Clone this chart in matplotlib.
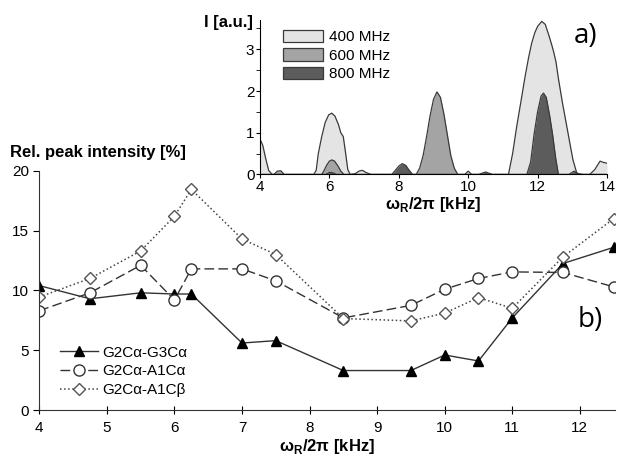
import matplotlib
matplotlib.use("Agg")
import matplotlib.pyplot as plt
from matplotlib.patches import Patch

plt.rcParams['font.family'] = ['Liberation Sans', 'DejaVu Sans']
plt.rcParams['mathtext.fontset'] = 'custom'
plt.rcParams['mathtext.bf'] = 'Liberation Sans:bold'

# Datos panel b
# ______________

x_rate = [4, 4.75, 5.5, 6, 6.25, 7, 7.5, 8.5, 9.5, 10, 10.5, 11, 11.75, 12.5]
g3ca = [10.4, 9.3, 9.8, 9.7, 9.7, 5.6, 5.8, 3.3, 3.3, 4.6, 4.1, 7.7, 12.25, 13.6]
a1ca = [8.3, 9.8, 12.1, 9.2, 11.8, 11.8, 10.8, 7.7, 8.75, 10.1, 11.0, 11.55, 11.5, 10.3]
a1cb = [9.45, 11.0, 13.3, 16.2, 18.45, 14.3, 13.0, 7.65, 7.45, 8.1, 9.4, 8.5, 12.8, 16.0]

# Datos panel a (espectros)
# __________________________

x400 = [4.0, 4.08, 4.16, 4.25, 4.35, 5.55, 5.62, 5.68, 5.78, 5.88, 5.98, 6.07,
        6.16, 6.26, 6.33, 6.4, 6.47, 6.53, 6.6, 6.75, 6.85, 6.95, 7.05, 7.2,
        9.9, 10.0, 10.1, 11.16, 11.28, 11.4, 11.52, 11.64, 11.74, 11.83, 11.92,
        12.0, 12.12, 12.22, 12.32, 12.41, 12.46, 12.53, 12.6, 12.72, 12.84, 12.93,
        13.02, 13.13, 13.3, 13.5, 13.65, 13.8, 13.9, 14.0]
y400 = [0.85, 0.7, 0.4, 0.1, 0.0, 0.0, 0.1, 0.5, 0.91, 1.25, 1.43, 1.47,
        1.4, 1.2, 1.0, 0.91, 0.5, 0.12, 0.0, 0.02, 0.08, 0.1, 0.05, 0.0,
        0.0, 0.08, 0.0, 0.0, 0.5, 1.16, 1.75, 2.35, 2.8, 3.15, 3.4,
        3.55, 3.67, 3.6, 3.35, 3.1, 2.95, 2.7, 2.3, 1.7, 1.16, 0.75,
        0.35, 0.03, 0.0, 0.0, 0.12, 0.32, 0.29, 0.27]

x600 = [4.0, 4.4, 4.5, 4.6, 4.7, 5.78, 5.85, 5.92, 6.0, 6.07, 6.15, 6.25, 6.33,
        6.42, 8.5, 8.6, 8.7, 8.8, 8.9, 9.0, 9.1, 9.2, 9.3, 9.4, 9.5, 9.6, 9.7, 14.0]
y600 = [0.0, 0.0, 0.08, 0.09, 0.0, 0.0, 0.1, 0.22, 0.32, 0.35, 0.32, 0.2, 0.08,
        0.0, 0.0, 0.15, 0.45, 0.9, 1.4, 1.8, 1.98, 1.85, 1.45, 0.95, 0.45, 0.15, 0.0, 0.0]

x800 = [4.0, 5.9, 6.0, 6.1, 6.2, 7.8, 7.9, 8.0, 8.1, 8.2, 8.3, 8.4, 10.3, 10.5,
        10.7, 11.69, 11.8, 11.9, 12.0, 12.1, 12.17, 12.25, 12.35, 12.43, 12.52,
        12.6, 12.9, 13.05, 13.2, 14.0]
y800 = [0.0, 0.0, 0.05, 0.04, 0.0, 0.0, 0.1, 0.2, 0.26, 0.22, 0.1, 0.0, 0.0, 0.06,
        0.0, 0.0, 0.3, 0.97, 1.5, 1.88, 1.95, 1.85, 1.4, 0.97, 0.4,
        0.0, 0.0, 0.08, 0.0, 0.0]

spectra = [("400 MHz", x400, y400, "#e4e4e4"),
           ("600 MHz", x600, y600, "#a4a4a4"),
           ("800 MHz", x800, y800, "#5c5c5c")]

XLAB = '\u03c9$_\\mathbf{R}$/2\u03c0 [kHz]'

# Figura
# _______

fig = plt.figure(figsize=(6.19, 4.58), dpi=100)

ax = fig.add_axes([0.0635, 0.1048, 0.930, 0.5222])
ax.patch.set_alpha(0)
ax.plot(x_rate, g3ca, '-', color='#333333', lw=1.0, marker='^', ms=7,
        mfc='black', mec='black', label='G2C\u03b1-G3C\u03b1')
ax.plot(x_rate, a1ca, '--', color='#333333', lw=1.0, dashes=(7, 3), marker='o', ms=8,
        mfc='white', mec='#333333', label='G2C\u03b1-A1C\u03b1')
ax.plot(x_rate, a1cb, ':', color='#444444', lw=1.1, marker='D', ms=6,
        mfc='white', mec='#555555', label='G2C\u03b1-A1C\u03b2')
ax.set_xlim(4, 12.52)
ax.set_ylim(0, 20)
ax.set_xticks(range(4, 13))
ax.set_yticks([0, 5, 10, 15, 20])
for s in ['top', 'right']:
    ax.spines[s].set_visible(False)
ax.spines['left'].set_color('#333333')
ax.spines['bottom'].set_color('#333333')
ax.tick_params(axis='x', direction='inout', length=6, labelsize=11, pad=5)
ax.tick_params(axis='y', direction='out', length=4, labelsize=11)
ax.set_xlabel(XLAB, fontsize=12, fontweight='bold', labelpad=1)
ax.legend(loc='upper left', bbox_to_anchor=(46/619, 1 - 332/458), bbox_transform=fig.transFigure,
          frameon=False, fontsize=11, handlelength=2.5, labelspacing=0.3, handletextpad=0.3)
fig.text(10/619, 1 - 153/458, 'Rel. peak intensity [%]', fontsize=12, fontweight='bold',
         ha='left', va='center')
fig.text(578/619, 1 - 320/458, 'b)', fontsize=20, family=['Open Sans', 'DejaVu Sans'],
         ha='left', va='center')

# Inset
# ______

ins = fig.add_axes([0.42, 0.619, 0.5606, 0.337], zorder=5)
ins.patch.set_facecolor('white')
handles = []
for name, xs, ys, col in spectra:
    ins.fill_between(xs, ys, 0, color=col, lw=0)
    ins.plot(xs, ys, color='#3a3a3a', lw=0.9)
    handles.append(Patch(facecolor=col, edgecolor='#3a3a3a', lw=0.9, label=name))
ins.set_xlim(4, 14)
ins.set_ylim(0, 3.7)
ins.set_xticks(range(4, 15, 2))
ins.set_yticks([0, 1, 2, 3])
ins.set_yticks([0.5, 1.5, 2.5, 3.5], minor=True)
for s in ['top', 'right']:
    ins.spines[s].set_visible(False)
ins.tick_params(axis='both', which='major', direction='out', length=3, labelsize=11, pad=1)
ins.tick_params(axis='y', which='minor', direction='out', length=3)
ins.set_xlabel(XLAB, fontsize=12, fontweight='bold', labelpad=1)
ins.legend(handles=handles, loc='upper left', bbox_to_anchor=(0.435, 0.965),
           bbox_transform=fig.transFigure, frameon=False, fontsize=11,
           handlelength=2.6, handleheight=0.9, labelspacing=0.25, handletextpad=0.4)
fig.text(253/619, 1 - 22/458, 'I [a.u.]', fontsize=12, fontweight='bold',
         ha='right', va='center')
fig.text(574/619, 1 - 36/458, 'a)', fontsize=20, family=['Open Sans', 'DejaVu Sans'],
         ha='left', va='center', zorder=10)

fig.savefig('out.png', dpi=100)
